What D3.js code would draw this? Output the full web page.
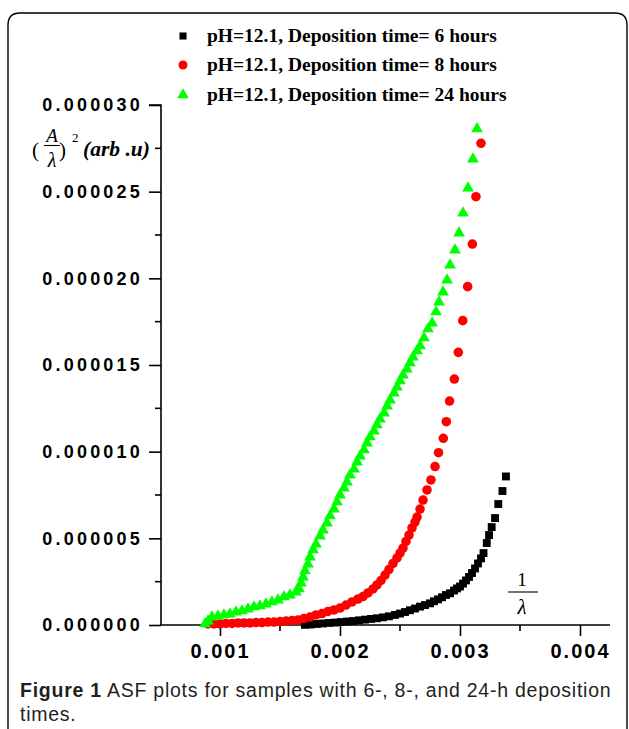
<!DOCTYPE html>
<html>
<head>
<meta charset="utf-8">
<script src="https://cdn.jsdelivr.net/npm/d3@7"></script>
<style>
  html, body { margin: 0; padding: 0; background: #fff; }
  svg { display: block; }
</style>
</head>
<body>
<svg id="chart" width="629" height="729"></svg>
<script>
// ---- data ----
const seriesNames = [
  "pH=12.1, Deposition time= 6 hours",
  "pH=12.1, Deposition time= 8 hours",
  "pH=12.1, Deposition time= 24 hours"
];
const xTicks = [0.001, 0.002, 0.003, 0.004];
const yTicks = [0, 0.000005, 0.00001, 0.000015, 0.00002, 0.000025, 0.00003];
const yTickLabels = ["0.000000","0.000005","0.000010","0.000015","0.000020","0.000025","0.000030"];
const xTickLabels = ["0.001","0.002","0.003","0.004"];

// 6 hours (black squares): x = 1/lambda, y in units of 1e-6
const blackX = [0.001708,0.001758,0.001808,0.001858,0.001908,0.001958,0.002008,0.002058,0.002108,0.002158,
  0.002208,0.002258,0.002308,0.002358,0.002408,0.002458,0.0025,0.002542,0.002583,0.002625,
  0.002667,0.002708,0.00275,0.002783,0.002817,0.00285,0.002883,0.002917,0.00295,0.002975,
  0.003,0.003025,0.00305,0.003075,0.0031,0.003125,0.00315,0.003175,0.003196,0.003223,
  0.003242,0.003264,0.003292,0.003319,0.003354,0.003383];
const blackY = [0.01,0.03,0.06,0.09,0.12,0.14,0.17,0.20,0.23,0.27,
  0.31,0.35,0.39,0.44,0.50,0.58,0.66,0.75,0.85,0.95,
  1.06,1.15,1.25,1.37,1.48,1.60,1.73,1.83,1.99,2.11,
  2.22,2.39,2.57,2.77,3.00,3.26,3.55,3.84,4.15,4.73,
  5.19,5.65,6.17,6.98,7.73,8.57];

// 8 hours (red circles)
const redX = [0.0009,0.00095,0.001,0.00105,0.0011,0.00115,0.0012,0.00125,0.0013,0.00135,
  0.0014,0.00145,0.0015,0.00155,0.0016,0.00165,0.0017,0.00175,0.0018,0.00185,
  0.0019,0.00195,0.002,0.00205,0.0021,0.00215,0.002192,0.002233,0.002275,0.002308,
  0.002342,0.002375,0.002408,0.002442,0.002475,0.0025,0.002525,0.00255,0.002575,0.0026,
  0.002625,0.002642,0.002667,0.002692,0.002725,0.002758,0.002792,0.002821,0.002861,0.002886,
  0.002913,0.002953,0.002986,0.003023,0.003064,0.003103,0.003133,0.003175];
const redY = [0.06,0.06,0.06,0.09,0.09,0.12,0.12,0.12,0.14,0.14,
  0.17,0.17,0.20,0.23,0.26,0.29,0.38,0.46,0.58,0.66,
  0.78,0.87,0.98,1.15,1.33,1.50,1.64,1.85,2.08,2.31,
  2.57,2.88,3.20,3.55,3.87,4.15,4.44,4.82,5.19,5.60,
  5.94,6.23,6.69,7.21,7.79,8.37,9.14,9.94,10.77,11.73,
  12.92,14.19,15.73,17.56,19.52,21.98,24.71,27.79];

// 24 hours (green triangles)
const greenX = [0.000875,0.0009,0.000933,0.000983,0.001033,0.001083,0.001133,0.001183,0.001233,0.001283,
  0.001333,0.001383,0.001433,0.001483,0.001533,0.001583,0.001633,0.001658,0.001675,0.001692,
  0.001708,0.001733,0.00175,0.001775,0.0018,0.001833,0.001858,0.001892,0.001917,0.00195,
  0.001975,0.002,0.002033,0.002058,0.002083,0.002117,0.002142,0.002167,0.0022,0.002225,
  0.00225,0.002283,0.002308,0.002333,0.002367,0.002392,0.002417,0.00245,0.002475,0.0025,
  0.002525,0.002558,0.002583,0.002608,0.002642,0.002667,0.0027,0.002733,0.002767,0.0028,
  0.002825,0.002858,0.002892,0.002917,0.002958,0.002992,0.003025,0.003067,0.003108,0.003142];
const greenY = [0.06,0.23,0.46,0.52,0.58,0.63,0.75,0.81,0.92,1.04,
  1.10,1.21,1.33,1.44,1.62,1.73,1.90,2.08,2.42,2.77,
  3.12,3.52,3.92,4.33,4.67,5.13,5.48,5.88,6.29,6.69,
  7.10,7.50,7.90,8.25,8.65,9.00,9.40,9.75,10.10,10.50,
  10.85,11.19,11.54,11.88,12.23,12.63,12.98,13.38,13.73,14.08,
  14.42,14.77,15.12,15.46,15.81,16.10,16.56,17.08,17.42,18.06,
  18.63,19.21,19.90,20.77,21.63,22.61,23.77,25.21,26.88,28.62];

const yUnit = 1e-6;

// ---- drawing ----
const svg = d3.select("#chart");
const x = d3.scaleLinear().domain([0.0005, 0.00425]).range([160, 610]);
const y = d3.scaleLinear().domain([0, 0.00003]).range([625, 105]);

// figure frame (rounded top, open bottom)
svg.append("path")
  .attr("d", "M8,729 L8,25 Q8,13 20,13 L615,13 Q627,13 627,25 L627,729")
  .attr("fill", "none").attr("stroke", "#000").attr("stroke-width", 1.4);

const axisFont = "'Liberation Sans', Arial, sans-serif";

// Y axis
const yAxis = d3.axisLeft(y).tickValues(yTicks).tickSize(12).tickPadding(6)
  .tickFormat((d, i) => yTickLabels[i]);
const gy = svg.append("g").attr("transform", "translate(161,0)").call(yAxis);
gy.select(".domain").attr("d", "M-12,105H0V625").attr("stroke-width", 1.6);
gy.selectAll(".tick line").attr("stroke-width", 1.6);
gy.selectAll(".tick text").attr("font-family", axisFont).attr("font-weight", "bold")
  .attr("font-size", 18).attr("letter-spacing", "3.2px").attr("fill", "#000");
const yMinor = d3.range(0, 6).map(i => 0.0000025 + i * 0.000005);
gy.selectAll(".ymin").data(yMinor).enter().append("line")
  .attr("x1", -6).attr("x2", 0).attr("y1", d => y(d)).attr("y2", d => y(d))
  .attr("stroke", "#000").attr("stroke-width", 1.6);

// X axis
const xAxis = d3.axisBottom(x).tickValues(xTicks).tickSize(11).tickPadding(8)
  .tickFormat((d, i) => xTickLabels[i]);
const gx = svg.append("g").attr("transform", "translate(0,625)").call(xAxis);
gx.select(".domain").attr("d", "M160,0H610").attr("stroke-width", 1.6);
gx.selectAll(".tick line").attr("stroke-width", 1.6);
gx.selectAll(".tick text").attr("font-family", axisFont).attr("font-weight", "bold")
  .attr("font-size", 20).attr("letter-spacing", "2px").attr("fill", "#000");
const xMinor = [0.0015, 0.0025, 0.0035];
gx.selectAll(".xmin").data(xMinor).enter().append("line")
  .attr("x1", d => x(d)).attr("x2", d => x(d)).attr("y1", 0).attr("y2", 6)
  .attr("stroke", "#000").attr("stroke-width", 1.6);

// data marks
const plot = svg.append("g");
const blackData = blackX.map((v, i) => [v, blackY[i] * yUnit]);
const redData = redX.map((v, i) => [v, redY[i] * yUnit]);
const greenData = greenX.map((v, i) => [v, greenY[i] * yUnit]);

const sq = d3.symbol().type(d3.symbolSquare).size(62);
const ci = d3.symbol().type(d3.symbolCircle).size(72);
const tr = d3.symbol().type(d3.symbolTriangle).size(60);

plot.selectAll(".b").data(blackData).enter().append("path")
  .attr("d", sq).attr("fill", "#000")
  .attr("transform", d => `translate(${x(d[0])},${y(d[1])})`);
plot.selectAll(".r").data(redData).enter().append("path")
  .attr("d", ci).attr("fill", "#ff0000")
  .attr("transform", d => `translate(${x(d[0])},${y(d[1])})`);
plot.selectAll(".g").data(greenData).enter().append("path")
  .attr("d", tr).attr("fill", "#00ff00")
  .attr("transform", d => `translate(${x(d[0])},${y(d[1])})`);

// legend
const legendFont = "'Liberation Serif', 'Times New Roman', serif";
const legendY = [36, 65, 95];
const legendSyms = [[d3.symbol().type(d3.symbolSquare).size(50), "#000"],
  [d3.symbol().type(d3.symbolCircle).size(64), "#ff0000"],
  [d3.symbol().type(d3.symbolTriangle).size(58), "#00ff00"]];
const lg = svg.append("g");
seriesNames.forEach((name, i) => {
  lg.append("path").attr("d", legendSyms[i][0]).attr("fill", legendSyms[i][1])
    .attr("transform", `translate(183,${legendY[i]})`);
  lg.append("text").attr("x", 207).attr("y", legendY[i] + 6)
    .attr("font-family", legendFont).attr("font-weight", "bold").attr("font-size", 19.5)
    .attr("fill", "#000").text(name);
});

// y axis label (A/lambda)^2 (arb.u)
const yl = svg.append("g").attr("font-family", legendFont).attr("fill", "#000");
yl.append("text").attr("x", 32).attr("y", 157).attr("font-size", 21).text("(");
yl.append("text").attr("x", 52).attr("y", 142).attr("font-size", 19).attr("font-style", "italic")
  .attr("text-anchor", "middle").text("A");
yl.append("line").attr("x1", 44).attr("x2", 60).attr("y1", 145.5).attr("y2", 145.5)
  .attr("stroke", "#000").attr("stroke-width", 1.1);
yl.append("text").attr("x", 52).attr("y", 167).attr("font-size", 20).attr("font-style", "italic")
  .attr("text-anchor", "middle").text("λ");
yl.append("text").attr("x", 59).attr("y", 157).attr("font-size", 21).text(")");
yl.append("text").attr("x", 72).attr("y", 142).attr("font-size", 13).text("2");
yl.append("text").attr("x", 83).attr("y", 156).attr("font-size", 21.5).attr("font-style", "italic")
  .attr("font-weight", "bold").text("(arb .u)");

// x axis label 1/lambda
const xl = svg.append("g").attr("font-family", legendFont).attr("fill", "#000");
xl.append("text").attr("x", 522).attr("y", 586).attr("font-size", 19)
  .attr("text-anchor", "middle").text("1");
xl.append("line").attr("x1", 508).attr("x2", 538).attr("y1", 592).attr("y2", 592)
  .attr("stroke", "#000").attr("stroke-width", 1.1);
xl.append("text").attr("x", 522).attr("y", 614).attr("font-size", 21).attr("font-style", "italic")
  .attr("text-anchor", "middle").text("λ");

// caption
const cap = svg.append("g").attr("font-family", "'Liberation Sans', Arial, sans-serif")
  .attr("font-size", 19.5).attr("letter-spacing", "0.75px").attr("fill", "#231f20");
const c1 = cap.append("text").attr("x", 20).attr("y", 697);
c1.append("tspan").attr("font-weight", "bold").text("Figure 1");
c1.append("tspan").text(" ASF plots for samples with 6-, 8-, and 24-h deposition");
cap.append("text").attr("x", 20).attr("y", 721).text("times.");
</script>
</body>
</html>
